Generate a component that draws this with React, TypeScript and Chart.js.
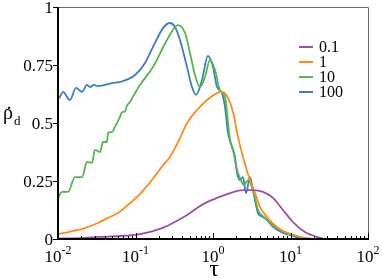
import React, { useEffect, useRef } from 'react';
import { Chart, registerables } from 'chart.js';

Chart.register(...registerables);

// Series labels / colours
const SERIES_LABELS = ['0.1', '1', '10', '100'];
const SERIES_COLORS = ['#9a50a8', '#ff8a1c', '#52b84a', '#3b7fc2'];

// log10(tau) positions and rho_d values
const LOGTAU_01 = [-2.0, -1.716, -1.458, -1.2, -0.981, -0.774, -0.619, -0.465, -0.335, -0.206, -0.077, 0.052, 0.219, 0.387, 0.516, 0.645, 0.774, 0.903, 1.032, 1.187, 1.342, 1.471, 2.0];
const RHO_01 = [0.002, 0.004, 0.009, 0.013, 0.019, 0.034, 0.052, 0.078, 0.103, 0.134, 0.159, 0.177, 0.198, 0.211, 0.211, 0.203, 0.177, 0.125, 0.073, 0.03, 0.009, 0, 0];

const LOGTAU_1 = [-2.0, -1.91, -1.819, -1.69, -1.613, -1.484, -1.355, -1.226, -1.097, -0.968, -0.839, -0.71, -0.619, -0.555, -0.426, -0.335, -0.206, -0.077, 0.052, 0.116, 0.181, 0.258, 0.323, 0.387, 0.477, 0.542, 0.606, 0.697, 0.826, 0.955, 1.123, 1.316, 2.0];
const RHO_1 = [0.022, 0.026, 0.034, 0.043, 0.052, 0.069, 0.091, 0.112, 0.147, 0.185, 0.233, 0.289, 0.328, 0.353, 0.435, 0.5, 0.556, 0.599, 0.629, 0.634, 0.616, 0.547, 0.44, 0.353, 0.254, 0.198, 0.138, 0.095, 0.052, 0.026, 0.009, 0, 0];

const LOGTAU_10 = [-2.0, -1.948, -1.871, -1.781, -1.69, -1.626, -1.561, -1.523, -1.458, -1.419, -1.368, -1.355, -1.303, -1.265, -1.2, -1.174, -1.135, -1.11, -1.071, -1.03, -0.942, -0.774, -0.594, -0.452, -0.361, -0.297, -0.232, -0.168, -0.103, -0.039, 0.026, 0.09, 0.155, 0.219, 0.258, 0.31, 0.348, 0.4, 0.452, 0.516, 0.581, 0.671, 0.8, 0.994, 1.187, 1.38, 2.0];
const RHO_10 = [0.177, 0.203, 0.203, 0.267, 0.267, 0.332, 0.328, 0.384, 0.375, 0.418, 0.418, 0.457, 0.461, 0.483, 0.526, 0.547, 0.55, 0.575, 0.59, 0.615, 0.664, 0.741, 0.858, 0.922, 0.888, 0.802, 0.707, 0.655, 0.698, 0.772, 0.728, 0.642, 0.612, 0.427, 0.384, 0.297, 0.263, 0.233, 0.254, 0.211, 0.125, 0.091, 0.052, 0.022, 0.004, 0, 0];

const LOGTAU_100 = [-2.0, -1.987, -1.935, -1.845, -1.768, -1.69, -1.626, -1.587, -1.535, -1.484, -1.303, -1.2, -1.006, -0.877, -0.774, -0.645, -0.555, -0.49, -0.426, -0.335, -0.271, -0.219, -0.142, -0.065, 0.0, 0.052, 0.116, 0.155, 0.194, 0.245, 0.284, 0.31, 0.348, 0.387, 0.426, 0.477, 0.516, 0.581, 0.645, 0.697, 0.774, 0.903, 0.994, 1.123, 1.38, 2.0];
const RHO_100 = [0.62, 0.608, 0.634, 0.599, 0.651, 0.634, 0.664, 0.655, 0.664, 0.659, 0.672, 0.677, 0.707, 0.759, 0.828, 0.909, 0.931, 0.914, 0.858, 0.741, 0.655, 0.621, 0.685, 0.789, 0.741, 0.655, 0.629, 0.569, 0.457, 0.397, 0.353, 0.284, 0.254, 0.267, 0.198, 0.267, 0.211, 0.112, 0.095, 0.082, 0.052, 0.026, 0.017, 0.004, 0, 0];

// Axis ticks
const X_TICK_EXPONENTS = [-2, -1, 0, 1, 2];
const Y_TICKS = [0, 0.25, 0.5, 0.75, 1];
const Y_TICK_LABELS = ['0', '0.25', '0.5', '0.75', '1'];

const SERIF = "'Liberation Serif', 'Times New Roman', Times, serif";

const toPoints = (lx: number[], ys: number[]) => lx.map((v, i) => ({ x: Math.pow(10, v), y: ys[i] }));

const axesPlugin = {
  id: 'customAxes',
  afterDraw(chart: any) {
    const { ctx, chartArea: a, scales } = chart;
    const xs = scales.x;
    const ys = scales.y;
    ctx.save();
    // top / right frame (grey, thin)
    ctx.strokeStyle = '#6a6a6a';
    ctx.lineWidth = 1;
    ctx.beginPath();
    ctx.moveTo(a.left, a.top + 0.5);
    ctx.lineTo(a.right + 0.5, a.top + 0.5);
    ctx.lineTo(a.right + 0.5, a.bottom);
    ctx.stroke();
    // left / bottom axes (black, thicker)
    ctx.strokeStyle = '#000';
    ctx.lineWidth = 2;
    ctx.beginPath();
    ctx.moveTo(a.left, a.top);
    ctx.lineTo(a.left, a.bottom);
    ctx.lineTo(a.right + 1, a.bottom);
    ctx.stroke();

    // y ticks + labels
    ctx.lineWidth = 1;
    ctx.fillStyle = '#000';
    ctx.font = '17px ' + SERIF;
    ctx.textAlign = 'right';
    ctx.textBaseline = 'middle';
    Y_TICKS.forEach((v, i) => {
      const y = Math.round(ys.getPixelForValue(v)) + 0.5;
      ctx.beginPath();
      ctx.moveTo(a.left - 5, y);
      ctx.lineTo(a.left, y);
      ctx.stroke();
      ctx.fillText(Y_TICK_LABELS[i], a.left - 5, y + 1);
    });

    // x ticks (inside)
    ctx.lineWidth = 1;
    X_TICK_EXPONENTS.forEach((e, idx) => {
      const base = Math.pow(10, e);
      const xm = Math.round(xs.getPixelForValue(base)) + 0.5;
      ctx.beginPath();
      ctx.moveTo(xm, a.bottom);
      ctx.lineTo(xm, a.bottom - 6);
      ctx.stroke();
      if (idx < X_TICK_EXPONENTS.length - 1) {
        for (let k = 2; k <= 9; k++) {
          const xn = Math.round(xs.getPixelForValue(k * base)) + 0.5;
          ctx.beginPath();
          ctx.moveTo(xn, a.bottom);
          ctx.lineTo(xn, a.bottom - 3);
          ctx.stroke();
        }
      }
      // label 10^e
      const main = '10';
      const sup = String(e);
      ctx.font = '17px ' + SERIF;
      const w1 = ctx.measureText(main).width;
      ctx.font = '12px ' + SERIF;
      const w2 = ctx.measureText(sup).width;
      const x0 = xs.getPixelForValue(base) - (w1 + w2) / 2;
      ctx.textAlign = 'left';
      ctx.textBaseline = 'alphabetic';
      ctx.font = '17px ' + SERIF;
      ctx.fillText(main, x0, 262);
      ctx.font = '12px ' + SERIF;
      ctx.fillText(sup, x0 + w1, 254);
    });

    // x title
    ctx.font = '24px ' + SERIF;
    ctx.textAlign = 'center';
    ctx.textBaseline = 'alphabetic';
    ctx.fillText('τ', (a.left + a.right) / 2 + 1, 276);

    // y title: rho dot, subscript d
    ctx.font = '20px ' + SERIF;
    ctx.textAlign = 'left';
    const rw = ctx.measureText('ρ').width;
    ctx.fillText('ρ', 3, 119);
    ctx.textAlign = 'center';
    ctx.fillText('˙', 3 + rw / 2 + 1, 121);
    ctx.textAlign = 'left';
    ctx.font = '13px ' + SERIF;
    ctx.fillText('d', 3 + rw + 1, 125);

    // legend
    ctx.font = '16px ' + SERIF;
    ctx.textBaseline = 'middle';
    ctx.textAlign = 'left';
    SERIES_LABELS.forEach((lab, i) => {
      const y = 47 + i * 15;
      ctx.strokeStyle = SERIES_COLORS[i];
      ctx.lineWidth = 2;
      ctx.beginPath();
      ctx.moveTo(299, y);
      ctx.lineTo(313, y);
      ctx.stroke();
      ctx.fillStyle = '#000';
      ctx.fillText(lab, 319, y + 1);
    });
    ctx.restore();
  },
};

export default function App() {
  const ref = useRef<HTMLCanvasElement | null>(null);
  useEffect(() => {
    if (!ref.current) return;
    const xs = [LOGTAU_01, LOGTAU_1, LOGTAU_10, LOGTAU_100];
    const ys = [RHO_01, RHO_1, RHO_10, RHO_100];
    const chart = new Chart(ref.current, {
      type: 'line',
      data: {
        datasets: SERIES_LABELS.map((lab, i) => ({
          label: lab,
          data: toPoints(xs[i], ys[i]),
          borderColor: SERIES_COLORS[i],
          backgroundColor: SERIES_COLORS[i],
          borderWidth: 1.8,
          pointRadius: 0,
          fill: false,
          cubicInterpolationMode: 'monotone' as const,
        })),
      },
      options: {
        responsive: false,
        animation: false,
        layout: { padding: { top: 7, right: 14, left: 0, bottom: 0 } },
        plugins: { legend: { display: false }, tooltip: { enabled: false } },
        scales: {
          x: {
            type: 'logarithmic',
            min: 0.01,
            max: 100,
            grid: { display: false },
            border: { display: false },
            ticks: { display: false },
            afterFit: (s: any) => { s.height = 40; },
          },
          y: {
            min: 0,
            max: 1,
            grid: { display: false },
            border: { display: false },
            ticks: { display: false },
            afterFit: (s: any) => { s.width = 58; },
          },
        },
      },
      plugins: [axesPlugin],
    });
    return () => { chart.destroy(); };
  }, []);
  return (
    <div style={{ position: 'absolute', left: 0, top: 0, width: 382, height: 279, background: '#fff' }}>
      <canvas ref={ref} width={382} height={279} style={{ display: 'block' }} />
    </div>
  );
}
